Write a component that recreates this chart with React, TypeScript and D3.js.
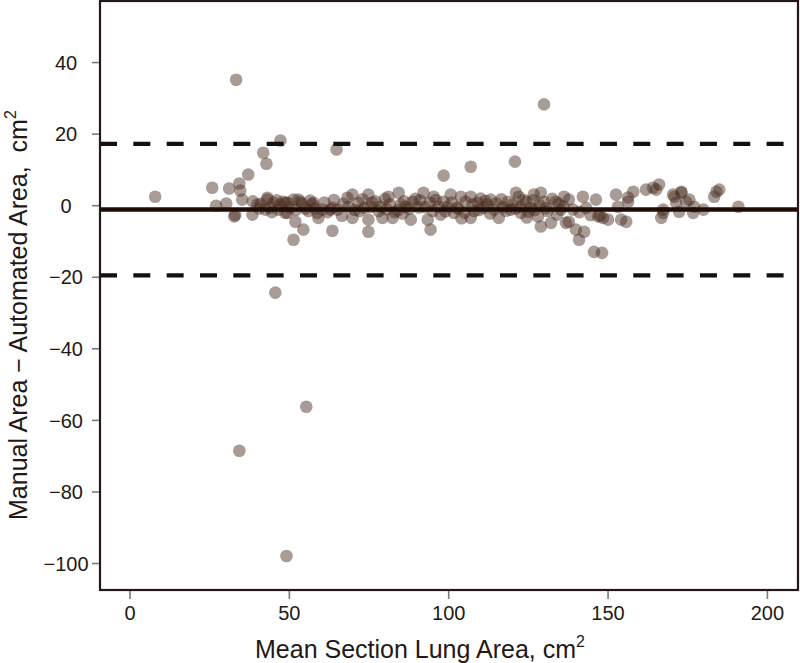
import React from "react";
import * as d3 from "d3";

// Bland-Altman: mean of manual & automated area vs their difference (cm^2)
const meanArea = [
  7.9, 33.3, 47.2, 41.8, 42.8, 37.1, 64.8, 45.6, 34.3, 55.3, 49.1, 129.9, 98.4, 106.9, 120.8, 145.6, 148.1,
  25.8, 31.1, 34.3, 34.6, 35.2, 27.0, 30.2, 32.7, 33.0, 38.4, 39.9, 43.1, 42.5, 45.0, 48.1, 48.7, 51.9, 51.3,
  54.4, 52.8, 57.5, 59.1, 62.9, 63.5, 65.1, 68.2, 43.1, 46.5, 48.7, 51.3, 53.5, 49.4, 57.2, 58.8, 60.4, 63.5,
  40.5, 44.0, 47.0, 50.0, 55.0, 56.0,
  69.8, 68.6, 69.8, 71.7, 74.8, 75.5, 74.8, 74.8, 78.6, 79.2, 81.1, 82.4, 84.3, 84.9, 86.5, 88.1, 88.7, 90.5,
  92.1, 93.4, 94.3, 95.3, 96.9, 98.4, 100.6, 99.7, 101.6, 103.8, 105.3, 106.9, 106.9, 109.1, 111.0, 113.2,
  114.2, 115.7, 118.6, 119.5, 121.1, 122.0, 122.6, 124.2, 125.8, 126.7, 128.9, 128.0, 128.9, 129.9, 132.1,
  133.6, 135.2, 136.2, 136.8, 72.0, 77.0, 80.5, 83.0, 91.0, 95.0, 97.5, 103.0, 108.0, 112.0, 117.0, 121.0,
  127.0, 131.0, 134.0, 104.0, 110.0, 124.5, 85.5, 66.5,
  137.7, 139.0, 137.7, 139.9, 142.1, 143.1, 140.9, 142.5, 146.2, 146.9, 148.4, 150.0, 152.5, 153.1, 154.1,
  155.7, 156.3, 157.9, 156.3, 161.9, 165.1, 166.0, 167.3, 166.7, 170.8, 171.4, 173.0, 172.3, 174.5, 175.5,
  177.0, 164.1, 167.3, 170.4, 173.0, 176.7, 179.9, 184.0, 184.9, 183.3, 190.9, 144.5, 147.5, 141.0,
  // dense band along the mean line
  38.5, 41.0, 44.5, 46.0, 49.5, 52.0, 54.0, 56.5, 58.0, 61.0, 62.0, 64.0, 67.0, 70.5, 73.0, 73.5, 76.0, 78.0,
  80.0, 81.5, 84.0, 86.0, 87.5, 89.5, 92.5, 94.0, 96.0, 99.0, 101.0, 102.5, 105.0, 107.5, 109.5, 111.5, 113.0,
  115.0, 116.5, 118.0, 120.0, 122.5, 123.5, 125.0, 126.5, 128.5, 130.5, 132.5, 134.5, 136.0,
];
const diffArea = [
  2.5, 35.2, 18.2, 14.8, 11.7, 8.7, 15.7, -24.3, -68.5, -56.2, -97.9, 28.3, 8.4, 10.9, 12.3, -12.9, -13.2,
  5.0, 4.8, 6.2, 4.2, 1.7, 0.0, 0.6, -3.0, -2.6, -2.5, 0.3, 1.7, -1.1, 0.8, 1.1, -2.0, -4.5, -9.5,
  -6.7, 1.7, 0.8, -3.4, -1.1, -7.0, -1.1, 2.2, 2.2, -1.1, 0.8, 1.7, 1.1, -2.0, 0.3, -2.0, -1.1, -0.6,
  -0.8, -0.5, 0.2, -0.5, -0.8, -1.5,
  3.1, -0.3, -3.4, 0.8, 3.1, -0.3, -3.9, -7.3, -0.3, -3.4, 2.5, -3.4, 3.6, 0.3, -0.3, -3.9, 1.1, -0.5,
  3.6, -3.9, -6.7, 2.5, -0.3, 1.1, 3.1, -0.3, -2.0, 2.5, 1.1, 2.5, -3.4, 0.8, -0.6, 1.7,
  -1.1, -3.4, 1.1, -1.1, 3.6, 2.5, -2.0, 1.1, -0.6, 3.1, 3.6, -3.0, -5.8, 1.1, -4.8,
  1.1, -1.1, 2.5, -4.8, -1.5, 1.2, -1.0, -1.8, 1.5, -1.5, -2.5, -0.8, -1.5, 0.3, -0.5, -0.8,
  -1.2, -1.5, -2.5, -3.5, 2.0, -3.3, -2.2, -2.8,
  1.7, -1.1, -4.5, -6.7, 2.5, -0.6, -9.5, -7.3, 1.7, -3.0, -3.4, -3.9, 3.1, -0.3, -3.9,
  -4.5, 1.1, 3.9, 2.3, 4.5, 4.5, 5.9, -2.0, -3.4, 2.5, 0.8, 3.6, -1.7, 1.1, 1.7,
  -0.3, 5.0, -1.1, 3.1, 3.9, -2.0, -1.1, 3.9, 4.5, 2.5, -0.3, -2.6, -2.8, -1.8,
  1.2, 0.5, -1.8, 1.5, 0.8, -1.2, 0.5, 1.4, -0.7, 0.9, -1.8, 1.6, 0.5, -1.2, 1.8, -0.6, 0.9, -1.5,
  1.9, 0.4, -1.3, 1.2, -0.9, 1.9, -0.4, 0.8, 1.6, -1.6, 0.9, -0.6, -1.9, 0.4, -1.2, 1.3, -2.2,
  0.7, 1.8, -1.4, 0.3, -0.4, 1.6, -1.7, 1.5, 0.2, -0.7, 1.9, 0.5, -0.2,
];

const meanDiff = -1.1;
const limits = [17.3, -19.5];
const xTicks = [0, 50, 100, 150, 200];
const yTicks = [40, 20, 0, -20, -40, -60, -80, -100];

const W = 800;
const H = 663;
const left = 100, right = 798, top = 1, bottom = 590;
const font = "Arial, 'Liberation Sans', Helvetica, sans-serif";
const ink = "#231815";

const fmt = (v: number) => (v < 0 ? "\u2212" + Math.abs(v) : String(v));

const App = () => {
  const x = d3.scaleLinear().domain([-9.42, 209.6]).range([left, right]);
  const y = d3.scaleLinear().domain([-107.4, 57.2]).range([bottom, top]);
  const pts = meanArea.map((m, i) => ({ m, d: diffArea[i] }));

  return (
    <svg
      width={W}
      height={H}
      style={{ position: "absolute", left: 0, top: 0, background: "white" }}
      fontFamily={font}
    >
      {/* points */}
      {pts.map((p, i) => (
        <circle key={i} cx={x(p.m)} cy={y(p.d)} r={6.3} fill="#4b2e22" fillOpacity={0.48} />
      ))}

      {/* mean and limits of agreement */}
      <line x1={left} x2={right} y1={y(meanDiff)} y2={y(meanDiff)} stroke="#1e0c06" strokeWidth={4.5} />
      {limits.map((l) => (
        <line
          key={l}
          x1={left}
          x2={right}
          y1={y(l)}
          y2={y(l)}
          stroke="#111"
          strokeWidth={4.2}
          strokeDasharray="17,16.33"
        />
      ))}

      {/* frame */}
      <rect x={left} y={top} width={right - left} height={bottom - top} fill="none" stroke={ink} strokeWidth={2.2} />

      {/* y ticks */}
      {yTicks.map((t) => (
        <g key={t}>
          <line x1={left - 8} x2={left - 1} y1={y(t)} y2={y(t)} stroke="#7a7a7a" strokeWidth={1.6} />
          <text x={66} y={y(t)} dy="0.36em" textAnchor="middle" fontSize={20} fill={ink}>
            {fmt(t)}
          </text>
        </g>
      ))}

      {/* x ticks */}
      {xTicks.map((t) => (
        <g key={t}>
          <line x1={x(t)} x2={x(t)} y1={bottom + 1} y2={bottom + 9} stroke="#7a7a7a" strokeWidth={1.6} />
          <text x={x(t)} y={620} textAnchor="middle" fontSize={20} fill={ink}>
            {fmt(t)}
          </text>
        </g>
      ))}

      {/* axis titles */}
      <text x={255} y={658} fontSize={25} fill={ink}>
        Mean Section Lung Area, cm
        <tspan fontSize={16} dy={-11}>2</tspan>
      </text>
      <text transform="translate(27,520) rotate(-90)" fontSize={25} fill={ink} style={{ whiteSpace: "pre" }}>
        {"Manual Area \u2212 Automated Area,  cm"}
        <tspan fontSize={16} dy={-11}>2</tspan>
      </text>
    </svg>
  );
};

export default App;
